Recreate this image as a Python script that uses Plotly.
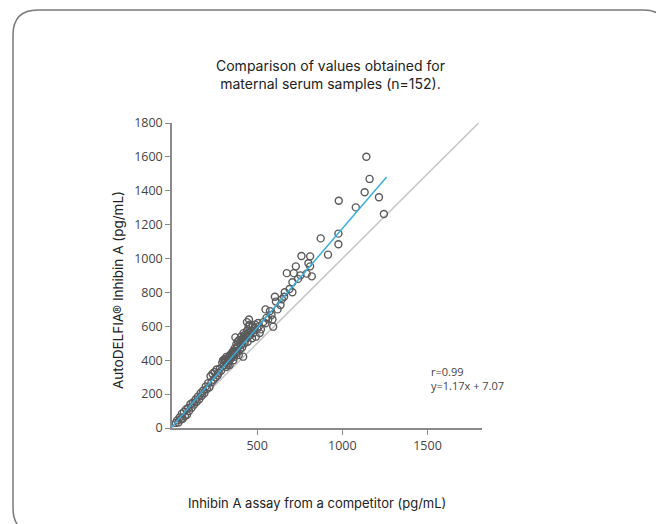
import plotly.graph_objects as go

# Data (pg/mL), 152 samples
high_x = [1141, 1160, 1131, 1215, 1079, 1244, 979, 873, 977, 977, 916, 811, 760, 801, 811, 727,
          674, 715, 754, 791, 821, 707, 662, 707, 604, 658, 610, 637, 549, 584, 565, 549, 594, 522,
          536, 555, 575, 590, 620, 645, 690, 740]
high_y = [1601, 1470, 1391, 1362, 1302, 1263, 1341, 1119, 1147, 1084, 1023, 1013, 1015, 972, 954, 954,
          914, 914, 901, 911, 895, 860, 801, 801, 775, 775, 746, 726, 700, 667, 641, 618, 598, 582,
          625, 650, 690, 640, 700, 760, 820, 880]
low_x = [22, 30, 38, 45, 52, 58, 63, 70, 76, 82, 88, 95, 100, 108, 115, 122, 130, 138, 145, 152,
         160, 168, 175, 182, 190, 198, 205, 212, 220, 226, 232, 238, 244, 250, 256, 262, 268, 274,
         280, 288]
low_y = [30, 45, 32, 62, 50, 85, 55, 95, 70, 110, 78, 118, 100, 140, 120, 150, 138, 168, 155, 185,
         170, 205, 190, 220, 205, 245, 230, 265, 240, 305, 270, 320, 285, 330, 298, 345, 310, 325,
         350, 338]
mid_x = [295, 300, 305, 308, 310, 315, 318, 320, 322, 326, 328, 330, 335, 338, 340, 342, 346, 350,
         352, 356, 358, 360, 362, 365, 368, 370, 372, 376, 378, 380, 384, 386, 388, 392, 394, 396,
         400, 404, 406, 408, 412, 415, 418, 420, 422, 426, 428, 430, 435, 440, 442, 444, 446, 448,
         450, 452, 456, 458, 460, 466, 470, 474, 478, 485, 488, 492, 500, 505, 510, 515]
mid_y = [385, 400, 370, 405, 392, 405, 360, 420, 380, 395, 372, 415, 400, 372, 430, 425, 410, 440,
         420, 448, 430, 400, 455, 420, 470, 450, 535, 440, 495, 470, 455, 510, 480, 430, 520, 500,
         465, 490, 540, 510, 475, 525, 421, 560, 529, 500, 550, 520, 545, 625, 575, 509, 540, 560,
         600, 640, 610, 570, 550, 575, 530, 600, 560, 590, 610, 539, 585, 620, 600, 560]
competitor = high_x + low_x + mid_x
autodelfia = high_y + low_y + mid_y

identity_x = [0, 1800]
identity_y = [0, 1800]
fit_slope = 1.17
fit_intercept = 7.07
fit_x = [0, 1260]
fit_y = [fit_slope * v + fit_intercept for v in fit_x]

x_ticks = [500, 1000, 1500]
y_ticks = [0, 200, 400, 600, 800, 1000, 1200, 1400, 1600, 1800]

title_text = "Comparison of values obtained for<br>maternal serum samples (n=152)."
x_title = "Inhibin A assay from a competitor (pg/mL)"
y_title = "AutoDELFIA® Inhibin A (pg/mL)"
stats_text = "r=0.99<br>y=1.17x + 7.07"

W, H = 656, 524
L, R, T, B = 172, 174, 123, 96
PW, PH = W - L - R, H - T - B


def px(x):
    return (x - L) / PW


def py(y):
    return (H - B - y) / PH


fig = go.Figure()
fig.add_trace(go.Scatter(x=identity_x, y=identity_y, mode="lines",
                         line=dict(color="#c6c6c6", width=1.5), hoverinfo="skip"))
fig.add_trace(go.Scatter(x=competitor, y=autodelfia, mode="markers",
                         marker=dict(symbol="circle-open", size=7,
                                     line=dict(color="#5a5a5a", width=1.4),
                                     color="#5a5a5a")))
fig.add_trace(go.Scatter(x=fit_x, y=fit_y, mode="lines",
                         line=dict(color="#3aaee0", width=1.5), hoverinfo="skip"))

# rounded frame
x0, y0, x1, y1, r = 13, 10, 668, 533, 25
path = (f"M {px(x0)},{py(y0 + r)} Q {px(x0)},{py(y0)} {px(x0 + r)},{py(y0)} "
        f"L {px(x1 - r)},{py(y0)} Q {px(x1)},{py(y0)} {px(x1)},{py(y0 + r)} "
        f"L {px(x1)},{py(y1 - r)} Q {px(x1)},{py(y1)} {px(x1 - r)},{py(y1)} "
        f"L {px(x0 + r)},{py(y1)} Q {px(x0)},{py(y1)} {px(x0)},{py(y1 - r)} Z")
fig.add_shape(type="path", path=path, xref="paper", yref="paper",
              line=dict(color="#7a7a7a", width=1.5), layer="below")

fig.add_annotation(text=title_text, x=px(330), y=py(75), xref="paper", yref="paper",
                   showarrow=False, xanchor="center", yanchor="middle",
                   font=dict(family="Inter, sans-serif", size=14, color="#222222"))
fig.add_annotation(text=x_title, x=px(317), y=py(503), xref="paper", yref="paper",
                   showarrow=False, xanchor="center", yanchor="middle",
                   font=dict(family="Inter, sans-serif", size=13, color="#222222"))
fig.add_annotation(text=y_title, x=px(118), y=py(290), xref="paper", yref="paper",
                   showarrow=False, xanchor="center", yanchor="middle", textangle=-90,
                   font=dict(family="Inter, sans-serif", size=13.5, color="#222222"))
fig.add_annotation(text=stats_text, x=px(429), y=py(378), xref="paper", yref="paper",
                   showarrow=False, xanchor="left", yanchor="middle", align="left",
                   font=dict(family="Open Sans, sans-serif", size=11, color="#444444"))

axis_common = dict(showgrid=False, zeroline=False, showline=True, linecolor="#8a8a8a",
                   linewidth=1.5, ticks="outside", ticklen=5, tickcolor="#8a8a8a",
                   tickwidth=1.2, tickfont=dict(family="Open Sans, sans-serif", size=12.5,
                                                color="#444444"))
fig.update_xaxes(range=[0, 1820], tickvals=x_ticks, **axis_common)
fig.update_yaxes(range=[0, 1800], tickvals=y_ticks, **axis_common)

fig.update_layout(width=W, height=H, margin=dict(l=L, r=R, t=T, b=B),
                  plot_bgcolor="white", paper_bgcolor="white", showlegend=False)

fig.write_html("out.html", config={"displayModeBar": False},
               post_script="document.body.style.margin='0';document.body.style.overflow='hidden';")
